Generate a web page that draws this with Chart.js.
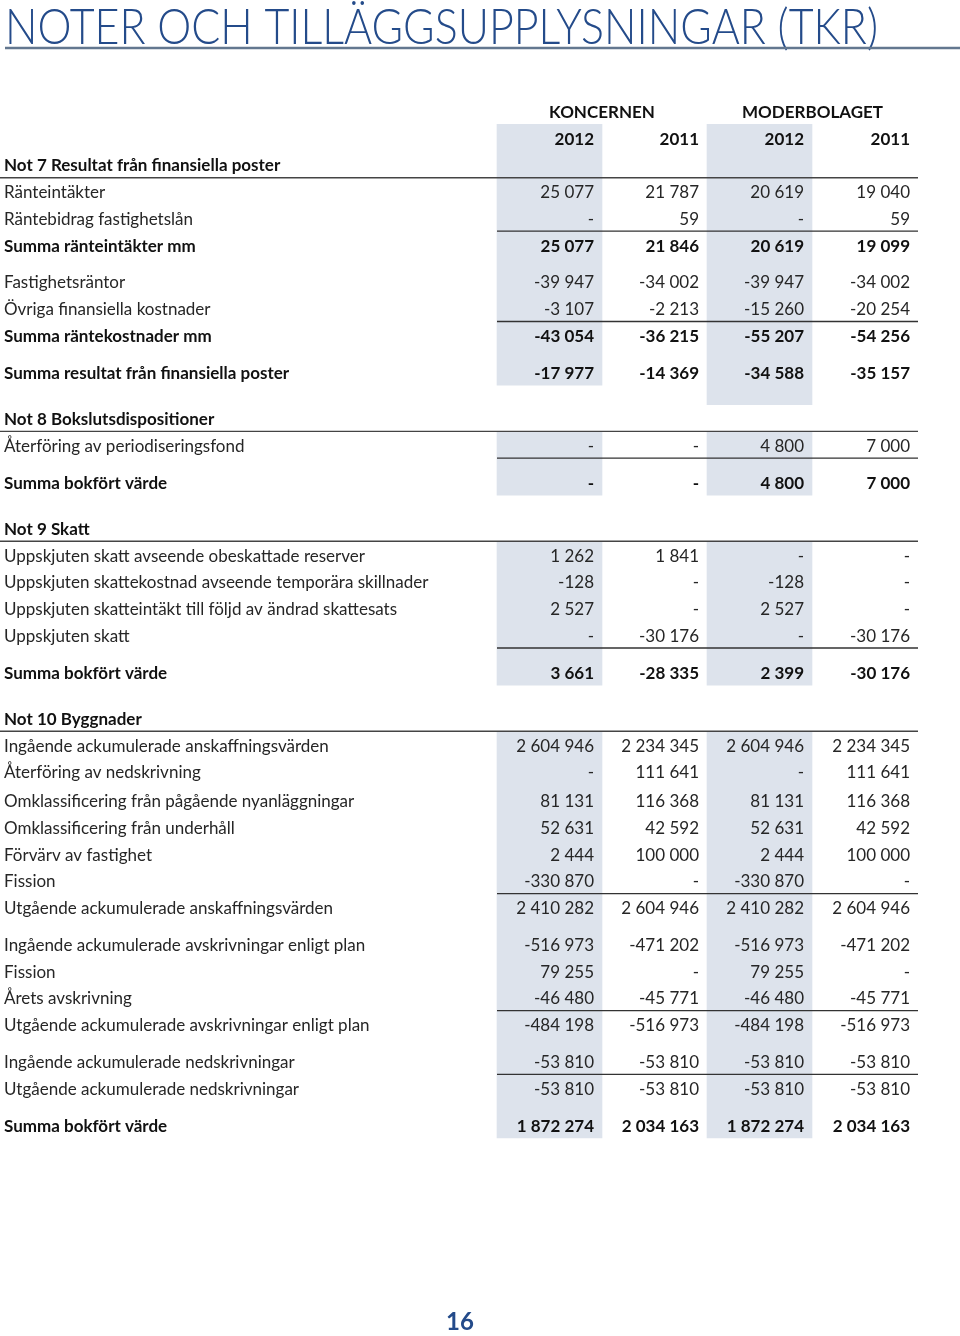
<!DOCTYPE html>
<html lang="sv">
<head>
<meta charset="utf-8">
<title>Noter och tilläggsupplysningar (TKR)</title>
<script src="https://cdn.jsdelivr.net/npm/chart.js@4.4.1/dist/chart.umd.min.js"></script>
<style>
  html, body { margin: 0; padding: 0; background: #fff; }
  #wrap { position: relative; width: 960px; height: 1336px; }
</style>
</head>
<body>
<div id="wrap"><canvas id="notes"></canvas></div>
<script>
const pageTitle = "NOTER OCH TILLÄGGSUPPLYSNINGAR (TKR)";
const pageNumber = "16";
const groupLabels = ["KONCERNEN", "MODERBOLAGET"];
const yearLabels = ["2012", "2011", "2012", "2011"];

// one entry per table row, top to bottom. null = "-"
const rowLabels = [
  "Not 7 Resultat från finansiella poster",
  "Ränteintäkter",
  "Räntebidrag fastighetslån",
  "Summa ränteintäkter mm",
  "Fastighetsräntor",
  "Övriga finansiella kostnader",
  "Summa räntekostnader mm",
  "Summa resultat från finansiella poster",
  "Not 8 Bokslutsdispositioner",
  "Återföring av periodiseringsfond",
  "Summa bokfört värde",
  "Not 9 Skatt",
  "Uppskjuten skatt avseende obeskattade reserver",
  "Uppskjuten skattekostnad avseende temporära skillnader",
  "Uppskjuten skatteintäkt till följd av ändrad skattesats",
  "Uppskjuten skatt",
  "Summa bokfört värde",
  "Not 10 Byggnader",
  "Ingående ackumulerade anskaffningsvärden",
  "Återföring av nedskrivning",
  "Omklassificering från pågående nyanläggningar",
  "Omklassificering från underhåll",
  "Förvärv av fastighet",
  "Fission",
  "Utgående ackumulerade anskaffningsvärden",
  "Ingående ackumulerade avskrivningar enligt plan",
  "Fission",
  "Årets avskrivning",
  "Utgående ackumulerade avskrivningar enligt plan",
  "Ingående ackumulerade nedskrivningar",
  "Utgående ackumulerade nedskrivningar",
  "Summa bokfört värde",
];
const rowKinds = [
  "note", "item", "item", "sum", "item", "item", "sum", "sum",
  "note", "item", "sum",
  "note", "item", "item", "item", "item", "sum",
  "note", "item", "item", "item", "item", "item", "item", "item",
  "item", "item", "item", "item", "item", "item", "sum",
];
const koncernen2012 = [
  null, 25077, null, 25077, -39947, -3107, -43054, -17977,
  null, null, null,
  null, 1262, -128, 2527, null, 3661,
  null, 2604946, null, 81131, 52631, 2444, -330870, 2410282,
  -516973, 79255, -46480, -484198, -53810, -53810, 1872274,
];
const koncernen2011 = [
  null, 21787, 59, 21846, -34002, -2213, -36215, -14369,
  null, null, null,
  null, 1841, null, null, -30176, -28335,
  null, 2234345, 111641, 116368, 42592, 100000, null, 2604946,
  -471202, null, -45771, -516973, -53810, -53810, 2034163,
];
const moderbolaget2012 = [
  null, 20619, null, 20619, -39947, -15260, -55207, -34588,
  null, 4800, 4800,
  null, null, -128, 2527, null, 2399,
  null, 2604946, null, 81131, 52631, 2444, -330870, 2410282,
  -516973, 79255, -46480, -484198, -53810, -53810, 1872274,
];
const moderbolaget2011 = [
  null, 19040, 59, 19099, -34002, -20254, -54256, -35157,
  null, 7000, 7000,
  null, null, null, null, -30176, -30176,
  null, 2234345, 111641, 116368, 42592, 100000, null, 2604946,
  -471202, null, -45771, -516973, -53810, -53810, 2034163,
];
const valueColumns = [koncernen2012, koncernen2011, moderbolaget2012, moderbolaget2011];

// ---- layout ----
const PAGE_W = 960, PAGE_H = 1336;
const FIRST_ROW_PX = 111, ROW_PX = 26.7;
const GAP = { tiny: 0.08, small: 0.385, large: 0.73 };
const gapBefore = { 4: "small", 7: "small", 8: "large", 10: "small", 11: "large",
  16: "small", 17: "large", 20: "tiny", 25: "small", 29: "small", 31: "small" };
const sumRulesAfter = [2, 5, 9, 15, 23, 27, 29];
const colRight = [594, 699, 804, 910];
const SHADE_LEFT = 97, SHADE_RIGHT = 8;
const LABEL_X = 4;
const BLUE = "#244b8a";
const SHADE = "#dde3ec";
const TEXT = "#262626";
const FONT = "Lato, 'Open Sans', sans-serif";

// row positions in row units (0 = group header, 1 = years)
const rowPos = [];
let cursor = 2;
rowLabels.forEach((_, i) => {
  if (gapBefore[i]) cursor += GAP[gapBefore[i]];
  rowPos.push(cursor);
  cursor += 1;
});

// shaded 2012 columns: [first row, last row, extra below] per note
const shadeBlocks = [
  { from: 1, to: rowPos[7], extra: [0, GAP.large] },
  { from: rowPos[9], to: rowPos[10], extra: [0, 0] },
  { from: rowPos[12], to: rowPos[16], extra: [0, 0] },
  { from: rowPos[18], to: rowPos[31], extra: [0, 0] },
];
const shadePoints = [];
[0, 2].forEach((c, k) => {
  shadeBlocks.forEach((b) => {
    shadePoints.push({
      x: colRight[c] + (SHADE_RIGHT - SHADE_LEFT) / 2,
      y: [b.from - 0.5, b.to + 0.5 + b.extra[k]],
    });
  });
});

const noteRulePoints = [];
const sumRulePoints = [];
rowKinds.forEach((kind, i) => {
  if (kind === "note") {
    noteRulePoints.push({ x: 0, y: rowPos[i] + 0.5 }, { x: colRight[3] + SHADE_RIGHT, y: rowPos[i] + 0.5 }, { x: 0, y: null });
  }
});
sumRulesAfter.forEach((i) => {
  const r = rowPos[i] + 0.5;
  sumRulePoints.push({ x: colRight[0] - SHADE_LEFT, y: r }, { x: colRight[3] + SHADE_RIGHT, y: r }, { x: 0, y: null });
});

function fmt(v) {
  if (v === null) return "-";
  const s = Math.abs(v).toString().replace(/\B(?=(\d{3})+(?!\d))/g, " ");
  return (v < 0 ? "-" : "") + s;
}

const pxToRow = (px) => (px - FIRST_ROW_PX) / ROW_PX;

const tableText = {
  id: "tableText",
  afterDatasetsDraw(chart) {
    const { ctx } = chart;
    const { x, y } = chart.scales;
    ctx.save();

    // page title, squeezed to the width of the original
    ctx.font = "300 50px " + FONT;
    ctx.fillStyle = BLUE;
    ctx.textBaseline = "alphabetic";
    const tw = ctx.measureText(pageTitle).width;
    ctx.save();
    ctx.translate(x.getPixelForValue(5), y.getPixelForValue(pxToRow(44)));
    ctx.scale(873 / tw, 1);
    ctx.fillText(pageTitle, 0, 0);
    ctx.restore();
    ctx.strokeStyle = "#63778f";
    ctx.lineWidth = 2.5;
    ctx.beginPath();
    ctx.moveTo(x.getPixelForValue(5), y.getPixelForValue(pxToRow(48)));
    ctx.lineTo(x.getPixelForValue(PAGE_W), y.getPixelForValue(pxToRow(48)));
    ctx.stroke();

    const base = (v) => y.getPixelForValue(v) + 7;

    // column headers
    ctx.fillStyle = "#111";
    ctx.font = "bold 17px " + FONT;
    ctx.textAlign = "center";
    groupLabels.forEach((g, k) => {
      const cx = (colRight[k * 2] + colRight[k * 2 + 1]) / 2 + (SHADE_RIGHT - SHADE_LEFT) / 2;
      ctx.fillText(g, x.getPixelForValue(cx), base(0));
    });
    ctx.textAlign = "right";
    yearLabels.forEach((yl, c) => ctx.fillText(yl, x.getPixelForValue(colRight[c]), base(1)));

    // rows
    rowLabels.forEach((label, i) => {
      const kind = rowKinds[i];
      const bold = kind !== "item";
      ctx.font = (bold ? "bold " : "") + "17px " + FONT;
      ctx.fillStyle = bold ? "#111" : TEXT;
      ctx.textAlign = "left";
      ctx.fillText(label, x.getPixelForValue(LABEL_X), base(rowPos[i]));
      if (kind === "note") return;
      ctx.textAlign = "right";
      valueColumns.forEach((col, c) => {
        ctx.fillText(fmt(col[i]), x.getPixelForValue(colRight[c]), base(rowPos[i]));
      });
    });

    // page number
    ctx.font = "bold 24px " + FONT;
    ctx.fillStyle = BLUE;
    ctx.textAlign = "center";
    ctx.fillText(pageNumber, x.getPixelForValue(460), y.getPixelForValue(pxToRow(1330)));
    ctx.restore();
  },
};

new Chart(document.getElementById("notes"), {
  type: "bar",
  data: {
    datasets: [
      {
        type: "line",
        label: "note rules",
        data: noteRulePoints,
        borderColor: "#444",
        borderWidth: 1.4,
        pointRadius: 0,
        spanGaps: false,
        order: 1,
      },
      {
        type: "line",
        label: "sum rules",
        data: sumRulePoints,
        borderColor: "#333",
        borderWidth: 1.4,
        pointRadius: 0,
        spanGaps: false,
        order: 1,
      },
      {
        type: "bar",
        label: "2012",
        data: shadePoints,
        backgroundColor: SHADE,
        borderWidth: 0,
        barThickness: SHADE_LEFT + SHADE_RIGHT,
        grouped: false,
        order: 2,
      },
    ],
  },
  options: {
    responsive: true,
    maintainAspectRatio: false,
    animation: false,
    events: [],
    layout: { padding: 0 },
    scales: {
      x: { type: "linear", min: 0, max: PAGE_W, offset: false, display: false },
      y: {
        type: "linear",
        reverse: true,
        min: pxToRow(0),
        max: pxToRow(PAGE_H),
        display: false,
      },
    },
    plugins: {
      legend: { display: false },
      tooltip: { enabled: false },
    },
  },
  plugins: [tableText],
});
</script>
</body>
</html>
